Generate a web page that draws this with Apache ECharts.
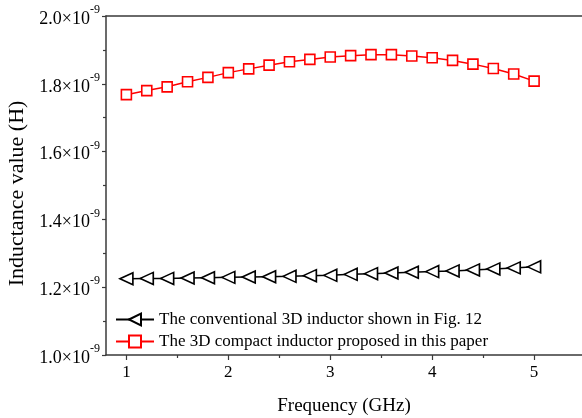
<!DOCTYPE html>
<html>
<head>
<meta charset="utf-8">
<script src="https://cdn.jsdelivr.net/npm/echarts@6/dist/echarts.min.js"></script>
<style>
  html, body { margin: 0; padding: 0; background: #fff; }
  #main { width: 582px; height: 418px; }
</style>
</head>
<body>
<div id="main"></div>
<script>
// frequency in GHz, inductance in units of 1e-9 H
var freq = [1.0, 1.2, 1.4, 1.6, 1.8, 2.0, 2.2, 2.4, 2.6, 2.8, 3.0,
            3.2, 3.4, 3.6, 3.8, 4.0, 4.2, 4.4, 4.6, 4.8, 5.0];
var conventional = [1.225, 1.226, 1.226, 1.227, 1.228, 1.229, 1.230, 1.231, 1.232, 1.234, 1.235,
                    1.238, 1.240, 1.242, 1.244, 1.246, 1.248, 1.251, 1.254, 1.257, 1.260];
var compact = [1.768, 1.780, 1.791, 1.806, 1.819, 1.833, 1.844, 1.855, 1.865, 1.872, 1.879,
               1.883, 1.886, 1.886, 1.882, 1.877, 1.869, 1.858, 1.845, 1.829, 1.808];
var xTicks = [1, 2, 3, 4, 5];
var xMinorTicks = [1.5, 2.5, 3.5, 4.5];
var names = ['The conventional 3D inductor shown in Fig. 12',
             'The 3D compact inductor proposed in this paper'];

var font = 'Liberation Serif';
var axisColor = '#3a3a3a';

function pairs(xs, ys) {
  return xs.map(function (x, i) { return [x, ys[i]]; });
}

var chart = echarts.init(document.getElementById('main'));
chart.setOption({
  animation: false,
  backgroundColor: '#fff',
  textStyle: { fontFamily: font, color: '#000' },
  grid: { left: 106, top: 16, right: 0, bottom: 63, containLabel: false, outerBoundsMode: 'none' },
  legend: {
    left: 110, top: 306,
    orient: 'vertical',
    itemWidth: 38, itemHeight: 15, itemGap: 5,
    textStyle: { fontFamily: font, fontSize: 17, color: '#000' },
    data: names
  },
  xAxis: [{
    type: 'value', position: 'bottom', min: 0.8, max: 5.47,
    name: 'Frequency (GHz)', nameLocation: 'middle', nameGap: 42,
    nameTextStyle: { fontFamily: font, fontSize: 19, color: '#000' },
    axisLine: { onZero: false, lineStyle: { color: axisColor, width: 1.5 } },
    axisTick: { customValues: xTicks, length: 5, lineStyle: { color: axisColor, width: 1.2 } },
    axisLabel: { customValues: xTicks, margin: 9, fontFamily: font, fontSize: 17, color: '#000' },
    splitLine: { show: false }
  }, {
    type: 'value', position: 'bottom', min: 0.8, max: 5.47,
    axisLine: { show: false, onZero: false },
    axisTick: { customValues: xMinorTicks, length: 3, lineStyle: { color: axisColor, width: 1.2 } },
    axisLabel: { show: false },
    splitLine: { show: false }
  }, {
    type: 'value', position: 'top', min: 0.8, max: 5.47,
    axisLine: { show: true, onZero: false, lineStyle: { color: axisColor, width: 1.5 } },
    axisTick: { show: false },
    axisLabel: { show: false },
    splitLine: { show: false }
  }],
  yAxis: {
    type: 'value', min: 1.0, max: 2.0, interval: 0.2,
    name: 'Inductance value (H)', nameLocation: 'middle', nameGap: 72,
    nameTextStyle: { fontFamily: font, fontSize: 22, color: '#000', padding: [0, 16, 0, 0] },
    axisLine: { show: true, onZero: false, lineStyle: { color: axisColor, width: 1.5 } },
    axisTick: { show: true, length: 4, lineStyle: { color: axisColor, width: 1.2 } },
    minorTick: { show: true, splitNumber: 2, length: 3, lineStyle: { color: axisColor, width: 1.2 } },
    axisLabel: {
      margin: 6,
      formatter: function (v) { return '{b|' + v.toFixed(1) + '×10}{s|-9}'; },
      rich: {
        b: { fontFamily: font, fontSize: 18, color: '#000', verticalAlign: 'bottom', lineHeight: 18 },
        s: { fontFamily: font, fontSize: 12, color: '#000', verticalAlign: 'top', lineHeight: 24 }
      }
    },
    splitLine: { show: false }
  },
  series: [{
    name: names[0], type: 'line', xAxisIndex: 0,
    data: pairs(freq, conventional),
    symbol: 'triangle', symbolSize: [12, 13], symbolRotate: 90,
    lineStyle: { color: '#000', width: 1.5 },
    itemStyle: { color: '#fff', borderColor: '#000', borderWidth: 1.6 },
    z: 3
  }, {
    name: names[1], type: 'line', xAxisIndex: 0,
    data: pairs(freq, compact),
    symbol: 'rect', symbolSize: 10,
    lineStyle: { color: '#ff0000', width: 1.5 },
    itemStyle: { color: '#fff', borderColor: '#ff0000', borderWidth: 1.6 },
    z: 3
  }]
});
</script>
</body>
</html>
